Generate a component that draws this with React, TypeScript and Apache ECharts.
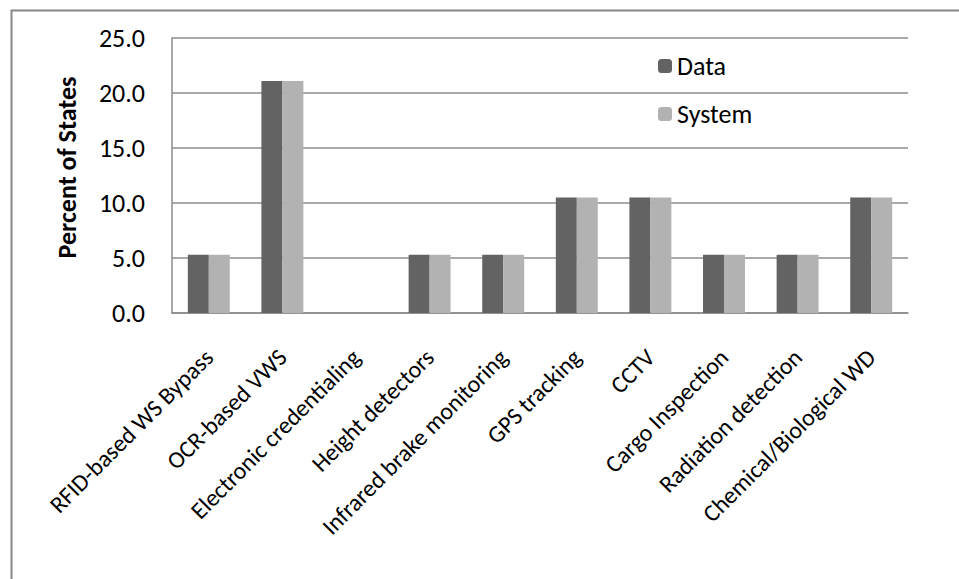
import React, { useEffect, useRef } from "react";
import * as echarts from "echarts";

const categories = [
  "RFID-based WS Bypass",
  "OCR-based VWS",
  "Electronic credentialing",
  "Height detectors",
  "Infrared brake monitoring",
  "GPS tracking",
  "CCTV",
  "Cargo Inspection",
  "Radiation detection",
  "Chemical/Biological WD",
];

const dataValues = [5.3, 21.1, 0, 5.3, 5.3, 10.5, 10.5, 5.3, 5.3, 10.5];
const systemValues = [5.3, 21.1, 0, 5.3, 5.3, 10.5, 10.5, 5.3, 5.3, 10.5];

const FONT = "Carlito, Lato, 'Open Sans', sans-serif";

export default function App() {
  const ref = useRef<HTMLDivElement>(null);

  useEffect(() => {
    if (!ref.current) return;
    const chart = echarts.init(ref.current, null, { renderer: "svg" });
    chart.setOption({
      animation: false,
      backgroundColor: "#ffffff",
      textStyle: { fontFamily: FONT },
      graphic: [
        {
          type: "rect",
          left: 9,
          top: 8,
          shape: { x: 0, y: 0, width: 1000, height: 700 },
          style: { fill: "none", stroke: "#878787", lineWidth: 2 },
          silent: true,
        },
      ],
      legend: {
        orient: "vertical",
        left: 653,
        top: 48,
        itemWidth: 14,
        itemHeight: 14,
        itemGap: 22,
        textStyle: { fontSize: 26, lineHeight: 26, color: "#000000", fontFamily: FONT },
        data: ["Data", "System"],
      },
      grid: { left: 172, right: 51, top: 38, bottom: 266 },
      xAxis: {
        type: "category",
        data: categories,
        axisLine: { lineStyle: { color: "#8c8c8c", width: 1.5 } },
        axisTick: { show: false },
        axisLabel: {
          rotate: 45,
          interval: 0,
          margin: 40,
          fontSize: 24,
          color: "#000000",
          fontFamily: FONT,
        },
      },
      yAxis: {
        type: "value",
        min: 0,
        max: 25,
        interval: 5,
        name: "Percent of States",
        nameLocation: "middle",
        nameGap: 92,
        nameTextStyle: {
          fontSize: 26,
          fontWeight: "bold",
          color: "#000000",
          fontFamily: FONT,
          padding: [0, 0, 0, 16],
        },
        axisLine: { show: true, lineStyle: { color: "#8c8c8c", width: 1.5 } },
        axisTick: { show: false },
        splitLine: { lineStyle: { color: "#8c8c8c", width: 1.5 } },
        axisLabel: {
          formatter: (v: number) => v.toFixed(1),
          fontSize: 26,
          margin: 27,
          color: "#000000",
          fontFamily: FONT,
        },
      },
      series: [
        {
          name: "Data",
          type: "bar",
          data: dataValues,
          barGap: "0%",
          barCategoryGap: "43%",
          itemStyle: { color: "#636363" },
        },
        {
          name: "System",
          type: "bar",
          data: systemValues,
          barGap: "0%",
          barCategoryGap: "43%",
          itemStyle: { color: "#b2b2b2" },
        },
      ],
    });
    return () => chart.dispose();
  }, []);

  return (
    <div
      ref={ref}
      style={{ position: "fixed", left: 0, top: 0, width: 959, height: 579 }}
    />
  );
}
